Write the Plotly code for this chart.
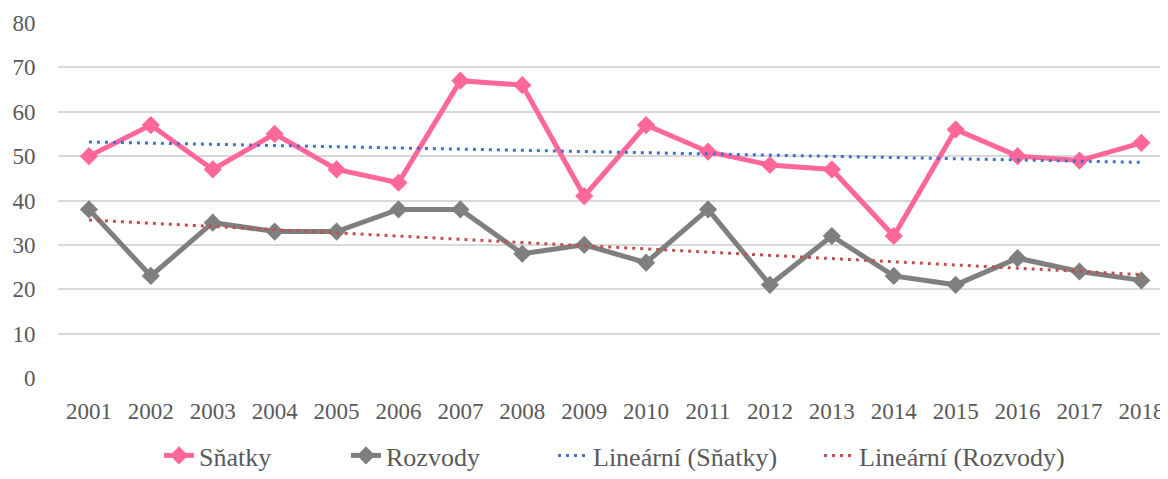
import plotly.graph_objects as go

years = [str(y) for y in range(2001, 2019)]
snatky = [50, 57, 47, 55, 47, 44, 67, 66, 41, 57, 51, 48, 47, 32, 56, 50, 49, 53]
rozvody = [38, 23, 35, 33, 33, 38, 38, 28, 30, 26, 38, 21, 32, 23, 21, 27, 24, 22]
trend_years = ["2001", "2018"]
trend_snatky = [53.2, 48.6]
trend_rozvody = [35.6, 23.3]

FONT = "Liberation Serif"
TXT = "#595959"
W, H = 1160, 471  # page body has an 8px margin

fig = go.Figure()
fig.add_trace(go.Scatter(x=years, y=snatky, name="Sňatky", mode="lines+markers",
                         line=dict(color="#FF6699", width=5),
                         marker=dict(symbol="diamond", size=14, color="#FF6699"),
                         legend="legend"))
fig.add_trace(go.Scatter(x=years, y=rozvody, name="Rozvody", mode="lines+markers",
                         line=dict(color="#7F7F7F", width=5),
                         marker=dict(symbol="diamond", size=14, color="#7F7F7F"),
                         legend="legend2"))
fig.add_trace(go.Scatter(x=trend_years, y=trend_snatky, name="Lineární (Sňatky)", mode="lines",
                         line=dict(color="#4472C4", width=3, dash="3px,5px"),
                         legend="legend3"))
fig.add_trace(go.Scatter(x=trend_years, y=trend_rozvody, name="Lineární (Rozvody)", mode="lines",
                         line=dict(color="#C0504D", width=3, dash="3px,5px"),
                         legend="legend4"))

def leg(screen_x):
    return dict(orientation="h", x=(screen_x - 8) / W, xanchor="left", xref="container",
                y=-5 / H, yanchor="bottom", yref="container",
                font=dict(family=FONT, size=26, color=TXT),
                bgcolor="rgba(0,0,0,0)", itemwidth=30)

fig.update_layout(
    width=W, height=H,
    margin=dict(l=50, r=0, t=15, b=101),
    paper_bgcolor="white", plot_bgcolor="white",
    font=dict(family=FONT, size=23, color=TXT),
    showlegend=True,
    legend=leg(159), legend2=leg(346), legend3=leg(553), legend4=leg(819),
    xaxis=dict(type="category", range=[-0.5, 17.43], showgrid=False, zeroline=False,
               showline=False, ticks="outside", ticklen=12, tickcolor="rgba(0,0,0,0)",
               automargin=False,
               tickfont=dict(family=FONT, size=23, color=TXT)),
    yaxis=dict(range=[0, 80], dtick=10, showgrid=True, gridcolor="#D9D9D9", gridwidth=2,
               zeroline=False, showline=False, ticks="outside", ticklen=17,
               tickcolor="rgba(0,0,0,0)", automargin=False,
               tickfont=dict(family=FONT, size=23, color=TXT)),
)
fig.write_html("out.html")
